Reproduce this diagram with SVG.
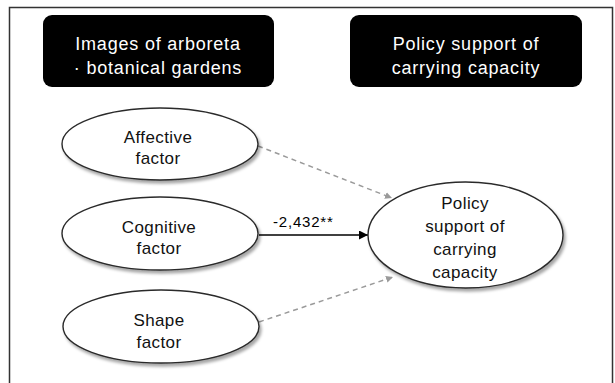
<svg xmlns="http://www.w3.org/2000/svg" width="615" height="383" viewBox="0 0 615 383">
<style>
.hdr{fill:#000}
.hdrtxt{font-family:"Liberation Sans",Arial,sans-serif;font-size:18px;fill:#fff;text-anchor:middle;letter-spacing:0.8px}
.ell{fill:#fff;stroke:#2a2a2a;stroke-width:1.4;filter:url(#sh)}
.t{font-family:"Liberation Sans",Arial,sans-serif;font-size:17px;fill:#111;text-anchor:middle;letter-spacing:0.4px}
.dash{fill:none;stroke:#9a9a9a;stroke-width:1.5;stroke-dasharray:5 4;marker-end:url(#ag)}
.solid{fill:none;stroke:#000;stroke-width:1.5;marker-end:url(#ab)}
.lbl{font-family:"Liberation Sans",Arial,sans-serif;font-size:15px;fill:#000;letter-spacing:0.8px}
</style>
<defs>
<filter id="sh" x="-10%" y="-10%" width="125%" height="130%">
<feDropShadow dx="2" dy="3" stdDeviation="1.5" flood-color="#000" flood-opacity="0.35"/>
</filter>
<marker id="ag" viewBox="0 0 10 10" refX="10" refY="5" markerWidth="7" markerHeight="7" orient="auto" markerUnits="userSpaceOnUse">
<path d="M0,0 L10,5 L0,10 z" fill="#9a9a9a"/>
</marker>
<marker id="ab" viewBox="0 0 10 10" refX="10" refY="5" markerWidth="11" markerHeight="9" orient="auto" markerUnits="userSpaceOnUse">
<path d="M0,0 L10,5 L0,10 z" fill="#000"/>
</marker>
</defs>
<rect x="0" y="0" width="615" height="383" fill="#fff"/>
<rect x="9.5" y="7.5" width="603" height="390" fill="#fff" stroke="#333" stroke-width="1.5"/>
<g id="header-images">
<rect class="hdr" x="43" y="15" width="231" height="72" rx="9"/>
<text class="hdrtxt" x="158" y="49.5">Images of arboreta</text>
<text class="hdrtxt" x="158" y="73.5">· botanical gardens</text>
</g>
<g id="header-policy">
<rect class="hdr" x="350" y="15" width="232" height="72" rx="9"/>
<text class="hdrtxt" x="466" y="49.5">Policy support of</text>
<text class="hdrtxt" x="466" y="73.5">carrying capacity</text>
</g>
<g id="connectors">
<line class="dash" x1="258" y1="146" x2="392" y2="198"/>
<line class="solid" x1="259" y1="235" x2="368" y2="235"/>
<line class="dash" x1="259" y1="322" x2="393" y2="277"/>
<text class="lbl" x="273" y="227">-2,432**</text>
</g>
<g id="affective">
<ellipse class="ell" cx="160" cy="144" rx="98" ry="36"/>
<text class="t" x="158" y="143">Affective</text>
<text class="t" x="158" y="164">factor</text>
</g>
<g id="cognitive">
<ellipse class="ell" cx="160" cy="233.5" rx="98" ry="36.5"/>
<text class="t" x="159" y="233">Cognitive</text>
<text class="t" x="159" y="254">factor</text>
</g>
<g id="shape">
<ellipse class="ell" cx="161" cy="326.5" rx="98" ry="36.5"/>
<text class="t" x="159" y="326">Shape</text>
<text class="t" x="159" y="348">factor</text>
</g>
<g id="policy">
<ellipse class="ell" cx="465.5" cy="235" rx="97.5" ry="53"/>
<text class="t" x="465" y="209">Policy</text>
<text class="t" x="465" y="232">support of</text>
<text class="t" x="465" y="255">carrying</text>
<text class="t" x="465" y="278">capacity</text>
</g>
</svg>
